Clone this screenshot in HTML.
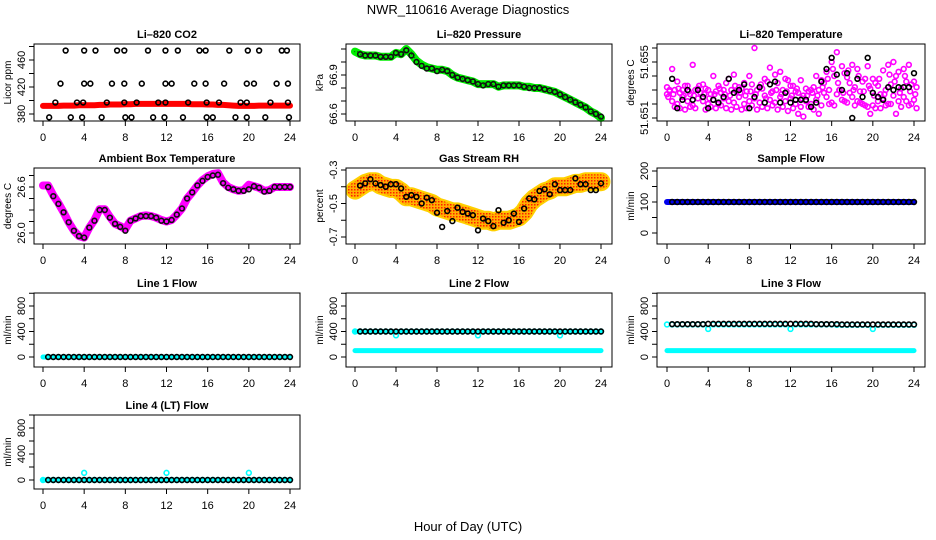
<!DOCTYPE html>
<html><head><meta charset="utf-8"><style>
html,body{margin:0;padding:0;background:#fff}
svg{display:block;font-family:"Liberation Sans",sans-serif}
</style></head><body>
<svg id="c" width="936" height="540" viewBox="0 0 936 540">
<defs>
<pattern id="rhpat" width="3" height="3" patternUnits="userSpaceOnUse"><rect width="3" height="3" fill="#ffb000"/><rect width="1.5" height="1.5" fill="#ff2000"/></pattern>
<pattern id="grpat" width="3" height="3" patternUnits="userSpaceOnUse"><rect width="3" height="3" fill="#00ee00"/><rect width="1.2" height="1.2" fill="#008800"/></pattern>
</defs>
<text x="468" y="14" text-anchor="middle" font-size="13">NWR_110616  Average Diagnostics</text>
<text x="468" y="531" text-anchor="middle" font-size="13">Hour of Day (UTC)</text>
</svg>
<script>
const HRS=[0,0.5,1,1.5,2,2.5,3,3.5,4,4.5,5,5.5,6,6.5,7,7.5,8,8.5,9,9.5,10,10.5,11,11.5,12,12.5,13,13.5,14,14.5,15,15.5,16,16.5,17,17.5,18,18.5,19,19.5,20,20.5,21,21.5,22,22.5,23,23.5,24];
const XTICKS=[0,4,8,12,16,20,24];
// CO2
const co2Red=[392,392,392,392,392.5,392.5,392.5,393,393,393,393,393.5,393.5,394,394,394,394.5,394.5,395,395,395,395,395,395,395,395,395,395,395,394.5,394.5,394.5,394,394,393.5,393.5,393,392.5,392,392,392,392,392.5,392.5,392.5,392.5,392.5,392.5,392.5];
const co2BlkHrs=[2.2,4.0,5.1,7.2,7.9,10.2,11.9,13.1,15.2,15.8,18.1,19.9,21.0,23.2,23.7,1.7,4.0,4.6,6.7,7.9,9.6,11.9,12.5,14.7,15.8,17.6,19.8,20.5,22.7,23.8,1.2,3.3,3.9,6.2,7.9,9.1,11.2,11.9,14.1,15.9,17.1,19.2,19.8,22.1,23.8,0.6,2.7,3.8,5.7,8.0,8.6,10.7,11.8,13.6,15.9,16.5,18.7,19.8,21.6,23.9];
const co2BlkVals=[474,474,474,474,474,474,474,474,474,474,474,474,474,474,474,425,425,425,425,425,425,425,425,425,425,425,425,425,425,425,397,397,397,397,397,397,397,397,397,397,397,397,397,397,397,375,375,375,375,375,375,375,375,375,375,375,375,375,375,375];
// Pressure
const presGreen=[67.08,67.06,67.05,67.05,67.05,67.04,67.04,67.04,67.07,67.06,67.1,67.06,67.01,66.98,66.96,66.95,66.94,66.94,66.93,66.9,66.88,66.87,66.86,66.85,66.83,66.83,66.83,66.83,66.81,66.82,66.82,66.82,66.82,66.81,66.81,66.8,66.8,66.79,66.78,66.77,66.75,66.73,66.71,66.69,66.67,66.65,66.62,66.6,66.57];
const presBlk=[null,67.06,67.05,67.05,67.05,67.04,67.04,67.04,67.07,67.06,67.09,67.05,67.0,66.97,66.95,66.95,66.93,66.94,66.93,66.9,66.88,66.87,66.86,66.85,66.83,66.82,66.83,66.83,66.81,66.82,66.82,66.82,66.82,66.81,66.8,66.8,66.8,66.79,66.78,66.77,66.75,66.73,66.71,66.69,66.67,66.65,66.62,66.6,66.58];
// Li-820 temperature
const tmpBlk=[null,51.6538,51.6517,51.6523,51.653,51.6523,51.653,51.6525,51.6517,51.6523,51.6521,51.6525,51.6538,51.6528,51.653,51.6534,51.6517,51.6525,51.6532,51.6521,51.6534,51.6536,51.6521,51.6528,51.6521,51.6523,51.6523,51.6523,51.6518,51.6521,51.6536,51.6545,51.6553,51.6541,51.653,51.6542,51.651,51.6538,51.6525,51.6553,51.6528,51.6525,51.6523,51.6532,51.653,51.6532,51.6532,51.6532,51.6542];
const magA=[51.6527,51.6522,51.6520,51.6525,51.6522,51.6519,51.6524,51.6522,51.6520,51.6523,51.6520,51.6524,51.6522,51.6521,51.6525,51.6520,51.6522,51.6524,51.6521,51.6526,51.6523,51.6521,51.6525,51.6522,51.6524,51.6520,51.6518,51.6522,51.6520,51.6523,51.6519,51.6525,51.6521,51.6527,51.6523,51.6521,51.6525,51.6522,51.6520,51.6518,51.6519,51.6522,51.6524,51.6520,51.6526,51.6522,51.6525,51.6519,51.6523];
const magB=[51.6532,51.6545,51.6536,51.6530,51.6533,51.6548,51.6531,51.6534,51.6530,51.6540,51.6533,51.6530,51.6538,51.6541,51.6532,51.6535,51.6540,51.6560,51.6532,51.6538,51.6546,51.6541,51.6543,51.6538,51.6533,51.6529,51.6537,51.6531,51.6530,51.6540,51.6537,51.6543,51.6550,51.6557,51.6547,51.6539,51.6548,51.6545,51.6536,51.6547,51.6538,51.6533,51.6544,51.6548,51.6550,51.6543,51.6545,51.6548,51.6536];
const magC=[51.6530,51.6518,51.6517,51.6516,51.6518,51.6517,51.6528,51.6516,51.6518,51.6517,51.6519,51.6517,51.6516,51.6518,51.6516,51.6517,51.6519,51.6516,51.6518,51.6517,51.6519,51.6516,51.6518,51.6515,51.6517,51.6513,51.6511,51.6518,51.6516,51.6513,51.6528,51.6520,51.6519,51.6530,51.6522,51.6528,51.6519,51.6521,51.6519,51.6513,51.6517,51.6517,51.6519,51.6520,51.6513,51.6518,51.6522,51.6520,51.6517];
const magD=[51.6529,51.6530,51.6528,51.6533,51.6527,51.6530,51.6528,51.6531,51.6527,51.6529,51.6528,51.6535,51.6530,51.6529,51.6531,51.6529,51.6534,51.6530,51.6531,51.6536,51.6529,51.6535,51.6530,51.6537,51.6533,51.6528,51.6526,51.6529,51.6532,51.6530,51.6535,51.6530,51.6540,51.6530,51.6542,51.6535,51.6532,51.6529,51.6538,51.6531,51.6535,51.6527,51.6530,51.6534,51.6540,51.6531,51.6536,51.6534,51.6532];
const magE=[51.6525,51.6527,51.6531,51.6526,51.6529,51.6526,51.6533,51.6527,51.6524,51.6527,51.6531,51.6527,51.6526,51.6533,51.6528,51.6526,51.6529,51.6527,51.6534,51.6524,51.6528,51.6530,51.6527,51.6529,51.6526,51.6531,51.6524,51.6526,51.6528,51.6526,51.6532,51.6538,51.6545,51.6535,51.6528,51.6544,51.6530,51.6540,51.6529,51.6533,51.6526,51.6538,51.6527,51.6541,51.6536,51.6528,51.6540,51.6529,51.6527];
// Ambient box temperature
const ambMag=[26.62,26.62,26.49,26.39,26.27,26.14,26.03,25.96,25.94,26.07,26.17,26.31,26.31,26.21,26.12,26.09,26.05,26.16,26.19,26.22,26.23,26.22,26.2,26.17,26.15,26.17,26.24,26.32,26.45,26.53,26.62,26.69,26.74,26.77,26.78,26.66,26.6,26.57,26.55,26.56,26.63,26.61,26.59,26.55,26.56,26.6,26.6,26.6,26.6];
const ambBlk=[null,26.6,26.48,26.38,26.27,26.14,26.03,25.96,25.94,26.07,26.16,26.3,26.3,26.2,26.12,26.08,26.03,26.16,26.19,26.22,26.22,26.22,26.2,26.16,26.15,26.17,26.24,26.32,26.45,26.53,26.62,26.68,26.73,26.75,26.76,26.65,26.59,26.57,26.55,26.55,26.57,26.61,26.59,26.54,26.55,26.6,26.6,26.6,26.6];
// Gas stream RH
const rhBand=[-0.42,-0.4,-0.38,-0.37,-0.37,-0.39,-0.4,-0.41,-0.41,-0.43,-0.46,-0.46,-0.47,-0.48,-0.49,-0.5,-0.52,-0.53,-0.54,-0.55,-0.55,-0.56,-0.57,-0.58,-0.59,-0.6,-0.6,-0.61,-0.6,-0.6,-0.6,-0.59,-0.58,-0.55,-0.5,-0.47,-0.45,-0.43,-0.42,-0.4,-0.4,-0.4,-0.39,-0.38,-0.38,-0.37,-0.37,-0.37,-0.37];
const rhBlk=[null,-0.393,-0.38,-0.355,-0.38,-0.39,-0.4,-0.385,-0.385,-0.41,-0.46,-0.45,-0.46,-0.5,-0.465,-0.48,-0.555,-0.64,-0.545,-0.605,-0.525,-0.55,-0.56,-0.57,-0.66,-0.59,-0.605,-0.635,-0.54,-0.615,-0.6,-0.56,-0.61,-0.53,-0.47,-0.475,-0.425,-0.415,-0.445,-0.385,-0.42,-0.42,-0.42,-0.35,-0.385,-0.385,-0.42,-0.42,-0.38];
// Flows
const sampleBlue=[100,100,100,100,100,100,100,100,100,100,100,100,100,100,100,100,100,100,100,100,100,100,100,100,100,100,100,100,100,100,100,100,100,100,100,100,100,100,100,100,100,100,100,100,100,100,100,100,100];
const sampleBlk=sampleBlue.map((v,i)=>i===0?null:v);
const line1Cyan=[0,0,0,0,0,0,0,0,0,0,0,0,0,0,0,0,0,0,0,0,0,0,0,0,0,0,0,0,0,0,0,0,0,0,0,0,0,0,0,0,0,0,0,0,0,0,0,0,0];
const line1Blk=line1Cyan.map((v,i)=>i===0?null:v);
const line2Cyan=[400,400,400,400,400,400,400,400,340,400,400,400,400,400,400,400,400,400,400,400,400,400,400,400,340,400,400,400,400,400,400,400,400,400,400,400,400,400,400,400,340,400,400,400,400,400,400,400,400];
const line2Low=[100,100,100,100,100,100,100,100,100,100,100,100,100,100,100,100,100,100,100,100,100,100,100,100,100,100,100,100,100,100,100,100,100,100,100,100,100,100,100,100,100,100,100,100,100,100,100,100,100];
const line2Blk=[null,400,400,400,400,400,400,400,400,400,400,400,400,400,400,400,400,400,400,400,400,400,400,400,400,400,400,400,400,400,400,400,400,400,400,400,400,400,400,400,400,400,400,400,400,400,400,400,400];
const line3Cyan=[510,510,510,510,510,510,510,510,440,510,510,510,510,510,510,510,510,510,510,510,510,510,510,510,440,510,510,510,510,510,510,510,510,505,505,505,505,505,505,505,440,505,505,505,505,505,505,505,505];
const line3Low=line2Low.slice();
const line3Blk=[null,515,515,515,515,515,515,515,520,520,520,520,520,520,520,520,520,520,520,520,520,520,520,520,520,520,520,520,520,515,515,515,515,515,510,510,510,510,510,510,510,510,510,510,510,510,510,510,510];
const line4Cyan=[0,0,0,0,0,0,0,0,110,0,0,0,0,0,0,0,0,0,0,0,0,0,0,0,110,0,0,0,0,0,0,0,0,0,0,0,0,0,0,0,110,0,0,0,0,0,0,0,0];
const line4Blk=line1Blk.slice();

const NS='http://www.w3.org/2000/svg';
const svg=document.getElementById('c');
function mk(tag,attrs,parent){const e=document.createElementNS(NS,tag);for(const k in attrs)e.setAttribute(k,attrs[k]);(parent||svg).appendChild(e);return e;}

const COLS=[{L:34,R:300,x0:43,x24:290},{L:346,R:612,x0:355,x24:601},{L:657,R:925,x0:667,x24:914}];
const ROWS=[{T:44,B:121},{T:168,B:244},{T:293,B:367},{T:415,B:489}];

function panel(name,title,ytitle,c,r,v1,y1,v2,y2,yticks,ylabels){
  const C=COLS[c],R=ROWS[r];
  const g=mk('g',{});
  
  
  const X=h=>C.x0+(h/24)*(C.x24-C.x0);
  const Y=v=>y1+(v-v1)*(y2-y1)/(v2-v1);
  const t=mk('text',{x:(C.L+C.R)/2,y:R.T-6,'text-anchor':'middle','font-size':11,'font-weight':'bold'},g);
  t.textContent=title;
  
  
  const yt=mk('text',{transform:`translate(${C.L-23},${(R.T+R.B)/2}) rotate(-90)`,'text-anchor':'middle','font-size':10},g);
  yt.textContent=ytitle;
  
  
  const ax=mk('g',{},g);
  
  
  XTICKS.forEach(h=>{
    mk('line',{x1:X(h),x2:X(h),y1:R.B,y2:R.B+5,stroke:'#000'},ax);
    const l=mk('text',{x:X(h),y:R.B+20,'text-anchor':'middle','font-size':11},ax);
    l.textContent=h;
  });
  const ay=mk('g',{},g);
  
  
  yticks.forEach(v=>{const yy=Y(v);if(yy<R.T-0.5||yy>R.B+0.5)return;mk('line',{x1:C.L-5,x2:C.L,y1:yy,y2:yy,stroke:'#000'},ay);});
  ylabels.forEach(v=>{
    const l=mk('text',{transform:`translate(${C.L-9},${Y(v[0])}) rotate(-90)`,'text-anchor':'middle','font-size':11},ay);
    l.textContent=v[1];
  });
  const plot=mk('g',{},g);
  mk('rect',{x:C.L,y:R.T,width:C.R-C.L,height:R.B-R.T,fill:'none',stroke:'#000','stroke-width':1},g);
  return {X,Y,plot};
}
function band(p,xs,vals,color,width,name){
  const d=xs.map((h,i)=>(i?'L':'M')+p.X(h).toFixed(1)+','+p.Y(vals[i]).toFixed(1)).join('');
  const e=mk('path',{d,fill:'none',stroke:color,'stroke-width':width,'stroke-linejoin':'round','stroke-linecap':'round'},p.plot);
  
  
}
function pts(p,xs,vals,color,name,dx){
  const g=mk('g',{},p.plot);
  
  
  xs.forEach((h,i)=>{const v=vals[i];if(v===null||v===undefined)return;
    mk('circle',{cx:p.X(h+(dx||0)),cy:p.Y(v),r:2.4,fill:'none',stroke:color,'stroke-width':1.6},g);});
}
const L=a=>a.map(v=>[v,String(v)]);

// Row 1
let p=panel('co2','Li\u2013820 CO2','Licor ppm',0,0,380,114,460,60,[380,400,420,440,460,480],L([380,420,460]));
band(p,HRS,co2Red,'#ff0000',6,'co2-red-series');
pts(p,co2BlkHrs,co2BlkVals,'#000','co2-black-points');

p=panel('pressure','Li\u2013820 Pressure','kPa',1,0,66.6,114,66.7,101,[66.6,66.7,66.8,66.9,67.0,67.1],L([66.6,66.9]));
band(p,HRS,presGreen,'#00ee00',8,'pressure-green-band');
band(p,HRS,presGreen,'url(#grpat)',4,'pressure-green-texture');
pts(p,HRS,presBlk,'#111','pressure-black-points');

p=panel('li820-temp','Li\u2013820 Temperature','degrees C',2,0,51.651,118,51.655,62,[51.651,51.652,51.653,51.654,51.655,51.656],[[51.651,'51.651'],[51.655,'51.655']]);
pts(p,HRS,magA,'#ff00ff','temp-magenta-a');
pts(p,HRS,magB,'#ff00ff','temp-magenta-b');
pts(p,HRS,magC,'#ff00ff','temp-magenta-c',0.25);
pts(p,HRS,magD,'#ff00ff','temp-magenta-d',0.25);
pts(p,HRS,magE,'#ff00ff','temp-magenta-e',0.12);
pts(p,HRS,tmpBlk,'#000','temp-black-points');

// Row 2
p=panel('ambient','Ambient Box Temperature','degrees C',0,1,26.0,233,26.6,187,[26.0,26.15,26.3,26.45,26.6,26.75],[[26.0,'26.0'],[26.6,'26.6']]);
band(p,HRS,ambMag,'#ff00ff',8,'ambient-magenta-band');
pts(p,HRS,ambBlk,'#111','ambient-black-points');

p=panel('rh','Gas Stream RH','percent',1,1,-0.3,170,-0.7,237,[-0.3,-0.4,-0.5,-0.6,-0.7],L([-0.3,-0.5,-0.7]));
band(p,HRS,rhBand,'#ffd000',19,'rh-yellow-band');
band(p,HRS,rhBand,'url(#rhpat)',15,'rh-orange-band');
pts(p,HRS,rhBlk,'#000','rh-black-points');

p=panel('sample-flow','Sample Flow','ml/min',2,1,0,233,200,171,[0,50,100,150,200],L([0,100,200]));
band(p,HRS,sampleBlue,'#0000ee',6,'sample-blue-band');
pts(p,HRS,sampleBlk,'#000','sample-black-points');

// Row 3
const FT=[0,200,400,600,800,1000],FL=L([0,400,800]);
p=panel('line1','Line 1 Flow','ml/min',0,2,0,357,800,306,FT,FL);
band(p,HRS,line1Cyan,'#00ffff',5,'line1-cyan-band');
pts(p,HRS,line1Blk,'#000','line1-black-points');

p=panel('line2','Line 2 Flow','ml/min',1,2,0,357,800,306,FT,FL);
band(p,HRS,line2Low,'#00ffff',5,'line2-cyan-low');
band(p,HRS,line2Cyan.map(v=>400),'#00ffff',5,'line2-cyan-band');
pts(p,HRS,line2Cyan,'#00ffff','line2-cyan-points');
pts(p,HRS,line2Blk,'#000','line2-black-points');

p=panel('line3','Line 3 Flow','ml/min',2,2,0,357,800,306,FT,FL);
band(p,HRS,line3Low,'#00ffff',5,'line3-cyan-low');
pts(p,HRS,line3Cyan,'#00ffff','line3-cyan-points');
pts(p,HRS,line3Blk,'#000','line3-black-points');

// Row 4
p=panel('line4','Line 4 (LT) Flow','ml/min',0,3,0,480,800,428,FT,FL);
band(p,HRS,line4Cyan.map(v=>0),'#00ffff',5,'line4-cyan-band');
pts(p,HRS,line4Cyan,'#00ffff','line4-cyan-points');
pts(p,HRS,line4Blk,'#000','line4-black-points');
</script>
</body></html>
